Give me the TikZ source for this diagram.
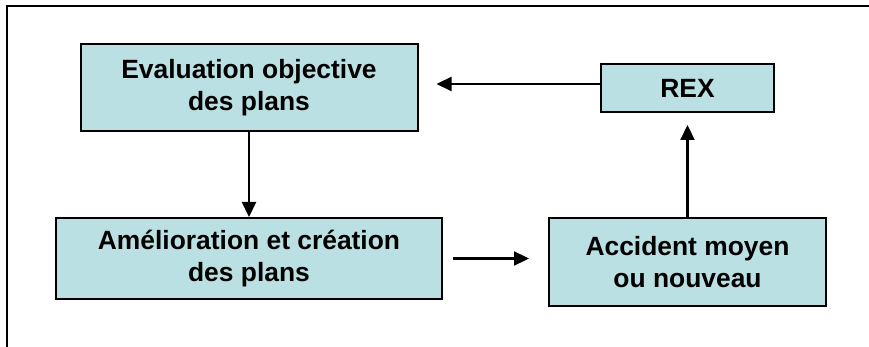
\documentclass[tikz,border=0pt]{standalone}
\usepackage{fontspec}
\setmainfont{Liberation Sans}
\usetikzlibrary{arrows.meta}
\definecolor{boxfill}{HTML}{BBE0E3}

\begin{document}
\begin{tikzpicture}[
  x=1pt, y=1pt,
  box/.style={draw, line width=2pt, fill=boxfill, align=center, inner sep=0pt,
    font=\fontsize{26.4}{31.7}\selectfont\bfseries},
  arr/.style={line width=2.2pt, -{Triangle[length=15pt,width=14pt]}}
  ]
  \useasboundingbox (0,0) rectangle (869,-347);
  % frame, only top and left sides
  \draw[line width=2.5pt] (7,-347) -- (7,-6) -- (869,-6);

  \node[box, minimum width=337pt, minimum height=87pt] (eval) at (249,-87.5)
    {Evaluation objective\\des plans};
  \node[box, minimum width=173pt, minimum height=48pt] (rex) at (687.5,-88)
    {REX};
  \node[box, minimum width=386pt, minimum height=81pt] (amelio) at (249,-258.5)
    {Amélioration et création\\des plans};
  \node[box, minimum width=277pt, minimum height=88pt] (accident) at (687.5,-262)
    {Accident moyen\\ou nouveau};

  \draw[arr] ([yshift=4pt]rex.west) -- ([xshift=18pt,yshift=4pt]eval.east |- rex.west);
  \draw[arr] (eval.south) -- (amelio.north);
  \draw[arr] ([xshift=10pt]amelio.east) -- ([xshift=-19pt]accident.west |- amelio.east);
  \draw[arr] (accident.north) -- ([yshift=-12pt]rex.south);
\end{tikzpicture}
\end{document}
